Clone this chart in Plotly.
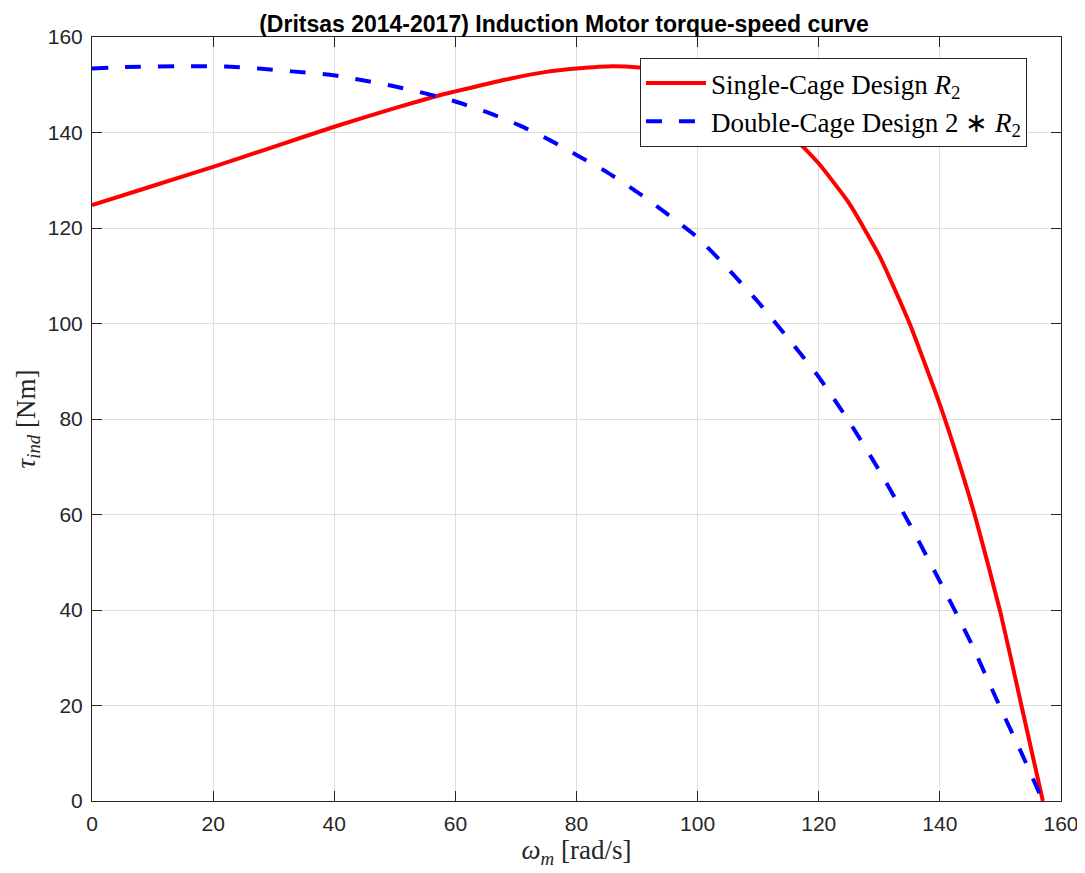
import plotly.graph_objects as go

# Single-cage design (R2)
omega_single = [0, 10, 20, 30, 40, 50, 57.4, 60, 68.4, 75, 80, 86, 90.4, 95, 100, 105, 110,
                115.2, 120, 125, 130, 135, 140, 143, 146, 150, 153.5, 157]
tau_single = [124.8, 128.8, 132.8, 137.0, 141.2, 145.1, 147.8, 148.6, 151.1, 152.7, 153.4, 153.9,
              153.6, 152.8, 151.2, 148.5, 144.8, 139.8, 133.5, 125.2, 114.2, 100.0, 83.0, 71.5,
              58.8, 39.5, 19.8, 0.0]

# Double-cage design (2*R2)
omega_double = [0, 5.5, 16.5, 22, 27.5, 33, 39.3, 44, 49.5, 55, 59.5, 65.1, 70.6, 75.6, 80,
                84.9, 90.4, 94.8, 100, 105, 110, 115, 120, 125, 130, 135, 140, 145, 150,
                153.5, 157]
tau_double = [153.4, 153.7, 153.9, 153.8, 153.4, 152.8, 152.1, 151.1, 149.8, 148.2, 146.7,
              144.3, 141.5, 138.4, 135.3, 131.8, 127.2, 123.1, 118.0, 111.5, 104.5, 96.8, 88.8,
              79.5, 69.2, 58.0, 46.0, 33.5, 19.5, 10.0, 0.0]

x_ticks = [0, 20, 40, 60, 80, 100, 120, 140, 160]
y_ticks = [0, 20, 40, 60, 80, 100, 120, 140, 160]

serif = "Liberation Serif, Times New Roman, serif"
sans = "Liberation Sans, Arial, Helvetica, sans-serif"

fig = go.Figure()
fig.add_trace(go.Scatter(
    x=omega_single, y=tau_single, mode="lines",
    name="Single-Cage Design <i>R</i><sub>2</sub>",
    line=dict(color="#ff0000", width=4, shape="spline", smoothing=0.5),
))
fig.add_trace(go.Scatter(
    x=omega_double, y=tau_double, mode="lines",
    name="Double-Cage Design 2 ∗ <i>R</i><sub>2</sub>",
    line=dict(color="#0000ff", width=4, dash="16px,17px", shape="spline", smoothing=0.5),
))

axis_common = dict(
    showgrid=True, gridcolor="#dedede", gridwidth=1,
    showline=True, linecolor="#262626", linewidth=1, mirror="allticks",
    ticks="inside", ticklen=10, tickcolor="#262626", tickwidth=1,
    tickfont=dict(family=sans, size=21, color="#262626"),
    zeroline=False, fixedrange=True, automargin=False,
)

# page is drawn with an 8px body offset, so margins compensate
fig.update_layout(
    width=1085, height=873,
    margin=dict(l=84, r=32, t=29, b=80),
    paper_bgcolor="white", plot_bgcolor="white",
    title=dict(text="<b>(Dritsas 2014-2017) Induction Motor torque-speed curve</b>",
               font=dict(family=sans, size=23, color="black"),
               x=556 / 1085, xanchor="center", y=1 - 16 / 873, yanchor="middle"),
    xaxis=dict(range=[0, 160], tickvals=x_ticks, ticklabelstandoff=4,
               title=dict(text="<i>ω<sub>m</sub></i> [rad/s]", font=dict(family=serif, size=27, color="#262626"), standoff=4),
               **axis_common),
    yaxis=dict(range=[0, 160], tickvals=y_ticks, ticklabelstandoff=4,
               title=dict(text="<i>τ<sub>ind</sub></i> [Nm]", font=dict(family=serif, size=27, color="#262626"), standoff=4),
               **axis_common),
    legend=dict(x=0.5655, y=0.9725, xanchor="left", yanchor="top",
                bgcolor="white", bordercolor="#262626", borderwidth=1,
                font=dict(family=serif, size=27, color="black"),
                tracegroupgap=0, itemwidth=60),
    showlegend=True,
)

fig.write_html("out.html")
